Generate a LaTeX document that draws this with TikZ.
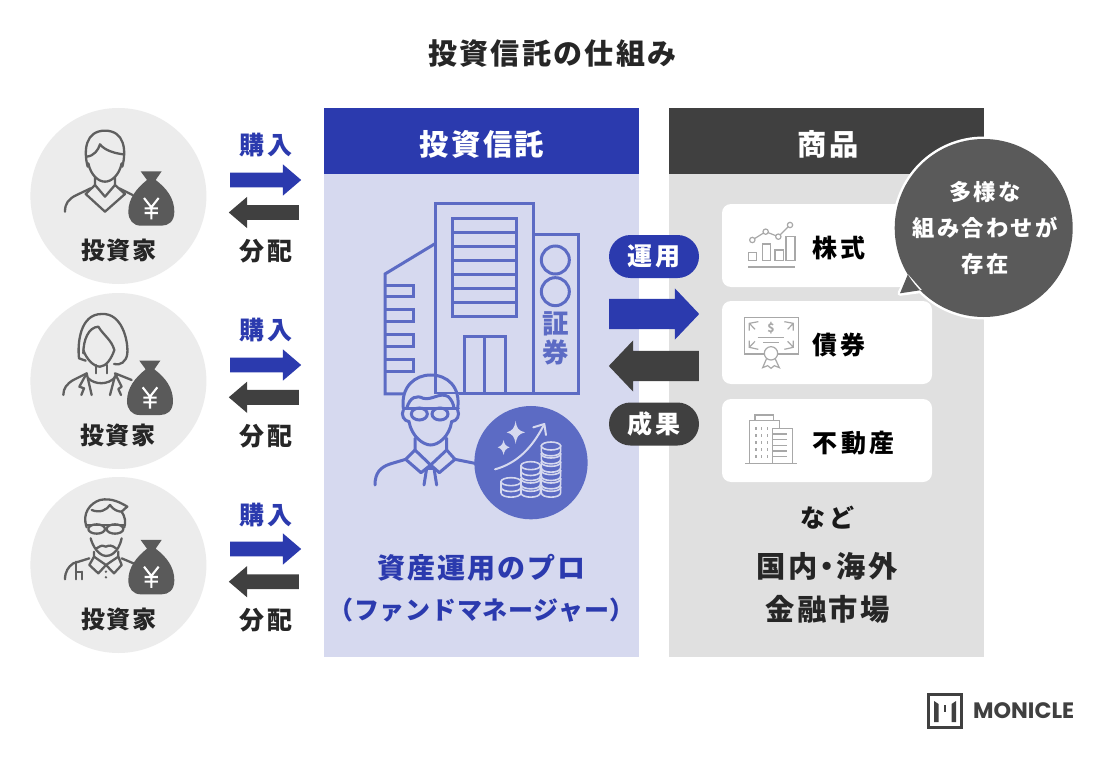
\documentclass[tikz,border=0pt]{standalone}
\usepackage{fontspec}
\setmainfont{Noto Sans CJK JP}
\newfontfamily\logofont{Poppins}
\usetikzlibrary{shapes.arrows,shapes.geometric,shapes.misc}
\definecolor{brand}{HTML}{2B3AAE}
\definecolor{bluepale}{HTML}{D6D9EF}
\definecolor{bluemid}{HTML}{5C6BC4}
\definecolor{darkhead}{HTML}{404040}
\definecolor{graypale}{HTML}{E0E0E0}
\definecolor{circlegray}{HTML}{ECECEC}
\definecolor{iconline}{HTML}{5F5F5F}
\definecolor{callout}{HTML}{5A5A5A}
\definecolor{thingray}{HTML}{A8A8A8}
\tikzset{
  tsmall/.style={font=\fontsize{24}{24}\selectfont\bfseries\addfontfeature{LetterSpace=6}},
  tpair/.style={font=\fontsize{25}{25}\selectfont\bfseries\addfontfeature{LetterSpace=14}},
  tbig/.style={font=\fontsize{29.3}{29.3}\selectfont\bfseries\addfontfeature{LetterSpace=8}},
  invcircle/.style={circle,fill=circlegray,minimum size=176pt,inner sep=0},
  buyarrow/.style={single arrow,anchor=tail,fill=brand,minimum height=71pt,minimum width=31pt,single arrow head extend=8.25pt,single arrow tip angle=81,inner xsep=0,inner ysep=7.25pt},
  payarrow/.style={single arrow,anchor=tail,fill=darkhead,shape border rotate=180,minimum height=70pt,minimum width=31pt,single arrow head extend=8.25pt,single arrow tip angle=81,inner xsep=0,inner ysep=7.25pt},
  bigarrow/.style={single arrow,anchor=tail,minimum height=90pt,minimum width=51pt,single arrow head extend=10.5pt,single arrow tip angle=93,inner xsep=0,inner ysep=15pt},
  pill/.style={rounded rectangle,minimum width=90pt,minimum height=43pt,inner sep=0,text=white,tpair},
  card/.style={rectangle,fill=white,rounded corners=9pt,minimum width=210pt,minimum height=83pt,inner sep=0},
  panel/.style={rectangle,minimum width=315pt,inner sep=0},
  person/.style={draw=iconline,line width=2.3pt,line cap=round,line join=round},
  bld/.style={draw=bluemid,line width=3pt,line join=miter},
  thinl/.style={draw=thingray,line width=1.2pt},
  coin/.style={draw=bluepale,fill=bluemid,line width=1.6pt},
}
% money bag in 3x crop coordinates
\newcommand{\moneybag}{%
  \fill[callout] (362,214) -- (425,214) -- (407,240)
    .. controls (440,265) and (463,295) .. (463,335)
    .. controls (463,365) and (445,377) .. (425,377) -- (362,377)
    .. controls (340,377) and (325,360) .. (325,335)
    .. controls (325,295) and (350,265) .. (381,240) -- cycle;
  \draw[white,line width=2.1pt] (372,294) -- (394,322) -- (416,294) (394,322) -- (394,358) (374,325) -- (414,325) (374,339) -- (414,339);
}
\newcommand{\coinstack}[4]{% cx, rx, list of y (bottom first)
  \foreach \yy in {#3} {
    \path[coin] (#1-#2,\yy) -- (#1-#2,\yy+16) .. controls (#1-#2,\yy+#4) and (#1+#2,\yy+#4) .. (#1+#2,\yy+16) -- (#1+#2,\yy) -- cycle;
    \path[coin] (#1,\yy) ellipse [x radius=#2,y radius=12];
  }
}
\begin{document}
\begin{tikzpicture}[x=1pt,y=-1pt]
\useasboundingbox (0,0) rectangle (1104,760);
\fill[white] (0,0) rectangle (1104,760);

\node[text=black!85,font=\fontsize{29}{29}\selectfont\bfseries\addfontfeature{LetterSpace=8}] (title) at (552.5,54) {投資信託の仕組み};

% investors
\node[invcircle] (c1) at (118.4,196) {};
\node[invcircle] (c2) at (118.4,381) {};
\node[invcircle] (c3) at (118.4,565) {};
\node[tsmall,text=black!85] (i1) at (119,250) {投資家};
\node[tsmall,text=black!85] (i2) at (118,435) {投資家};
\node[tsmall,text=black!85] (i3) at (119,619.5) {投資家};

% person 1
\begin{scope}[shift={(20,100)},scale=1/3]
  \draw[person] (203,200) .. controls (190,150) and (197,92) .. (255,92) .. controls (313,92) and (320,150) .. (307,200);
  \draw[person] (200,170) .. controls (222,168) and (235,150) .. (240,133) .. controls (255,152) and (285,160) .. (310,163);
  \draw[person] (205,190) .. controls (212,225) and (235,245) .. (255,245) .. controls (275,245) and (298,225) .. (305,190);
  \draw[person] (225,230) -- (225,255) -- (255,290) -- (285,255) -- (285,230);
  \draw[person] (225,255) -- (197,282) -- (255,335) -- (315,282) -- (285,255);
  \draw[person] (212,265) -- (170,285) .. controls (145,297) and (135,310) .. (135,335);
  \draw[person] (298,265) -- (338,285);
  \moneybag
\end{scope}

% person 2
\begin{scope}[shift={(20,290)},scale=1/3]
  \draw[person] (197,212) -- (177,205) .. controls (172,160) and (180,72) .. (245,72) .. controls (305,68) and (325,150) .. (322,190) .. controls (320,215) and (300,228) .. (282,222);
  \draw[person] (190,190) .. controls (190,150) and (205,112) .. (235,110) .. controls (250,135) and (275,150) .. (283,180);
  \draw[person] (190,180) .. controls (198,205) and (220,230) .. (240,230) .. controls (258,230) and (275,205) .. (283,180);
  \draw[person] (228,225) -- (228,250) (260,225) -- (260,250);
  \draw[person] (205,265) .. controls (225,285) and (265,285) .. (285,262);
  \draw[person] (200,250) -- (160,270) .. controls (140,282) and (130,295) .. (130,315);
  \draw[person] (200,250) -- (178,290) -- (192,295) -- (184,315) (200,250) -- (215,315);
  \draw[person] (285,250) -- (335,270) (285,250) -- (305,290) -- (295,297) -- (303,315) (285,258) -- (270,315);
  \begin{scope}[shift={(-4,-2)}]\moneybag\end{scope}
\end{scope}

% person 3
\begin{scope}[shift={(20,290)},scale=1/3]
  \draw[person] (200,712) .. controls (185,670) and (210,640) .. (240,630) .. controls (275,622) and (305,640) .. (322,650) .. controls (315,655) and (310,660) .. (305,665) .. controls (315,680) and (318,695) .. (313,712);
  \draw[person] (215,660) .. controls (240,670) and (260,660) .. (270,645) .. controls (280,660) and (295,665) .. (305,665);
  \draw[person] (197,705) -- (315,705);
  \draw[person] (230,717) ellipse [x radius=25,y radius=14];
  \draw[person] (285,717) ellipse [x radius=25,y radius=14];
  \draw[person] (212,745) .. controls (225,790) and (250,798) .. (258,798) .. controls (270,798) and (295,790) .. (305,745);
  \draw[person] (230,775) .. controls (245,765) and (250,765) .. (258,770) .. controls (268,765) and (275,765) .. (288,775);
  \draw[person] (222,785) -- (222,800) -- (208,825) -- (235,850) -- (258,825) -- (282,850) -- (305,825) -- (295,800) -- (295,785);
  \draw[person] (222,800) -- (258,825) -- (295,800);
  \draw[person] (208,805) -- (160,820) .. controls (145,830) and (135,845) .. (135,868);
  \draw[person] (168,815) -- (168,868) (168,845) -- (185,845) (185,845) -- (185,868);
  \draw[person] (305,805) -- (345,822);
  \fill[iconline] (258,845) circle (4) (258,862) circle (4);
  \begin{scope}[shift={(0,536)}]\moneybag\end{scope}
\end{scope}

% buy and pay
\node[tpair,text=brand] (b1) at (266,145) {購入};
\node[buyarrow] (ba1) at (230,180) {};
\node[payarrow] (pa1) at (299,212.5) {};
\node[tpair,text=black!85] (p1) at (266,251) {分配};
\node[tpair,text=brand] (b2) at (266,330) {購入};
\node[buyarrow] (ba2) at (230,365) {};
\node[payarrow] (pa2) at (299,397.3) {};
\node[tpair,text=black!85] (p2) at (266,436) {分配};
\node[tpair,text=brand] (b3) at (266,515) {購入};
\node[buyarrow] (ba3) at (230,549) {};
\node[payarrow] (pa3) at (299,581.7) {};
\node[tpair,text=black!85] (p3) at (266,620) {分配};

% panels
\node[panel,fill=bluepale,minimum height=549pt] (fundbody) at (481.5,382.5) {};
\node[panel,fill=brand,minimum height=66pt] (fundhead) at (481.5,141) {};
\node[panel,fill=graypale,minimum height=549pt] (prodbody) at (826.5,382.5) {};
\node[panel,fill=darkhead,minimum height=66pt] (prodhead) at (826.5,141) {};
\node[tbig,text=white] (fundtitle) at (482,144) {投資信託};
\node[tbig,text=white] (prodtitle) at (828,144) {商品};

% building
\begin{scope}[shift={(360,190)},scale=1/3]
  \draw[bld] (227,612) -- (227,40) -- (520,40) -- (520,612);
  \draw[bld] (520,133) -- (655,133) -- (655,612) -- (520,612);
  \draw[bld] (130,612) -- (75,612) -- (75,252) -- (227,160);
  \draw[bld] (227,612) -- (520,612);
  \draw[bld] (277,85) rectangle (470,380);
  \foreach \yy in {127,170,212,253,295,338} \draw[bld] (277,\yy) -- (470,\yy);
  \draw[bld] (312,612) -- (312,440) -- (435,440) -- (435,612) (373,440) -- (373,612);
  \foreach \yy in {285,360,435,510} \draw[bld] (75,\yy) -- (160,\yy) -- (160,\yy+35) -- (75,\yy+35);
  \draw[bld] (586,210) circle (42);
  \draw[bld] (586,305) circle (42);
  \node[text=bluemid,font=\fontsize{26.5}{26.5}\selectfont\bfseries] (sho) at (586,400) {証};
  \node[text=bluemid,font=\fontsize{26.5}{26.5}\selectfont\bfseries] (ken) at (586,488) {券};
  % manager
  \fill[bluepale] (128,612) rectangle (297,690);
  \draw[bld,line cap=round] (130,655) .. controls (122,590) and (165,555) .. (212,555) .. controls (262,555) and (302,590) .. (293,655);
  \draw[bld,line cap=round] (140,655) .. controls (150,620) and (170,615) .. (190,625) .. controls (215,632) and (240,605) .. (265,620) .. controls (275,630) and (280,640) .. (282,655);
  \draw[bld,line cap=round] (130,655) -- (295,655);
  \draw[bld] (178,672) ellipse [x radius=24,y radius=18];
  \draw[bld] (240,672) ellipse [x radius=24,y radius=18];
  \draw[bld,line cap=round] (130,660) .. controls (122,675) and (132,693) .. (147,695) .. controls (155,740) and (190,765) .. (212,765) .. controls (235,765) and (268,740) .. (275,695) .. controls (292,693) and (300,675) .. (293,660);
  \draw[bld,line cap=round] (165,745) -- (165,780) -- (212,825) -- (260,780) -- (260,745);
  \draw[bld,line cap=round,line join=round] (165,780) -- (137,808) -- (183,848) -- (212,825) -- (238,848) -- (285,808) -- (260,780);
  \draw[bld,line cap=round] (137,808) -- (90,822) .. controls (60,832) and (45,850) .. (45,885);
  \draw[bld,line cap=round] (285,808) -- (345,820);
  \draw[bld,line cap=round,line join=round] (200,835) -- (192,885) (222,835) -- (230,885) (200,835) -- (222,835);
  % coin badge
  \fill[bluemid] (513,818) circle (170);
  \fill[bluepale] (467,692) .. controls (470,715) and (475,722) .. (495,727) .. controls (475,732) and (470,740) .. (467,762) .. controls (463,740) and (458,732) .. (440,727) .. controls (458,722) and (463,715) .. (467,692) -- cycle;
  \fill[bluepale] (431,750) .. controls (433,763) and (437,768) .. (449,772) .. controls (437,776) and (433,782) .. (431,795) .. controls (428,782) and (424,776) .. (413,772) .. controls (424,768) and (428,763) .. (431,750) -- cycle;
  \draw[bluepale,line width=2pt,line cap=round] (405,838) .. controls (470,820) and (515,775) .. (550,708);
  \draw[bluepale,line width=2pt,line cap=round,line join=round] (520,712) -- (553,702) -- (558,735);
  \coinstack{573}{29}{892,867,842,817,792,768}{34}
  \coinstack{512}{29}{892,867,842,827}{34}
  \coinstack{453}{30}{892,875}{34}
\end{scope}

\node[text=brand,font=\fontsize{28}{28}\selectfont\bfseries\addfontfeature{LetterSpace=7}] (pro1) at (481.5,567.5) {資産運用のプロ};
\node[text=brand,font=\fontsize{25}{25}\selectfont\bfseries\addfontfeature{LetterSpace=3}] (pro2) at (481.5,610) {（ファンドマネージャー）};

% middle
\node[pill,fill=brand] (unyo) at (654,256.5) {運用};
\node[pill,fill=darkhead] (seika) at (654,424) {成果};
\node[bigarrow,fill=brand] (up) at (609,314) {};
\node[bigarrow,fill=darkhead,shape border rotate=180] (down) at (699,366) {};

% cards
\node[card] (k1) at (827,245.5) {};
\node[card] (k2) at (827,342.5) {};
\node[card] (k3) at (827,440.5) {};
\node[tpair,text=black] (kt1) at (839,248) {株式};
\node[tpair,text=black] (kt2) at (839,345) {債券};
\node[tpair,text=black] (kt3) at (853.5,443) {不動産};

% stock icon
\begin{scope}[shift={(720,130)},scale=1/3]
  \draw[draw=thingray,line width=1.8pt] (85,412) -- (225,412);
  \draw[thinl] (85,367) rectangle (110,392);
  \draw[thinl] (127,342) rectangle (152,392);
  \draw[thinl] (165,360) rectangle (190,392);
  \draw[thinl] (198,320) rectangle (225,392);
  \draw[thinl] (97,330) -- (137,305) -- (175,320) -- (210,285);
  \foreach \p in {(97,330),(137,305),(175,320),(210,285)} \draw[thinl,fill=white] \p circle (8);
\end{scope}

% bond icon
\begin{scope}[shift={(720,300)},scale=1/3]
  \draw[thinl] (73,52) rectangle (235,162);
  \draw[thinl] (88,92) -- (88,70) -- (115,65) (88,70) -- (105,88);
  \draw[thinl] (220,92) -- (220,70) -- (193,65) (220,70) -- (203,88);
  \draw[thinl] (88,122) -- (88,142) -- (115,148) (88,142) -- (105,124);
  \draw[thinl] (220,122) -- (220,142) -- (193,148) (220,142) -- (203,124);
  \draw[thinl] (113,113) -- (193,113) (130,128) -- (177,128);
  \node[text=thingray,font=\fontsize{12}{12}\selectfont\bfseries] (dollar) at (153,84) {\$};
  \draw[thinl] (140,175) -- (128,203) -- (143,197) -- (153,205) -- (163,197) -- (178,203) -- (165,175);
  \draw[thinl,fill=white] (153,160) circle (20);
\end{scope}

% estate icon
\begin{scope}[shift={(720,300)},scale=1/3]
  \draw[draw=thingray,line width=1.6pt] (75,490) -- (230,490);
  \draw[thinl] (88,490) -- (88,362) -- (178,362) -- (178,385);
  \draw[thinl] (105,362) -- (105,345) -- (160,345) -- (160,362);
  \draw[thinl] (157,490) -- (157,385) -- (218,385) -- (218,490);
  \foreach \yy in {402,419,436,453,470} \draw[thinl] (160,\yy) -- (202,\yy);
  \foreach \xx in {106,123,140} \foreach \yy in {382,403,424,445,466} \fill[thingray] (\xx,\yy) rectangle +(3.5,9);
\end{scope}

% market text
\node[tpair,text=black!90] (nado) at (827.5,518) {など};
\node[tbig,text=black!85] (m1) at (827,566) {国内\hspace{-5pt}・\hspace{-5pt}海外};
\node[tbig,text=black!85] (m2) at (827.5,609) {金融市場};

% callout
\fill[white] (908,276) -- (900,293.3) -- (920,290.7) -- cycle;
\draw[white,line width=5pt,line join=round] (983.7,228) circle (89) (908.3,276) -- (900,293.3) -- (920,290.7);
\fill[callout] (983.7,228) circle (89) (908,274) -- (900,293.3) -- (922,290) -- cycle;
\node[text=white,align=center,font=\fontsize{22.3}{36}\selectfont\bfseries\addfontfeature{LetterSpace=10}] (bub) at (985,228) {多様な\\組み合わせが\\存在};

% logo
\node[rectangle,draw=darkhead,line width=2.6pt,minimum width=33pt,minimum height=33pt,inner sep=0] (logobox) at (945,711) {};
\fill[darkhead] (934,701) -- (938.5,704) -- (938.5,722) -- (934,722) -- cycle;
\fill[darkhead] (943.5,705) -- (946,705) -- (946,712) -- (943.5,712) -- cycle;
\fill[darkhead] (951.5,704) -- (956,701) -- (956,722) -- (951.5,722) -- cycle;
\node[anchor=west,inner sep=0,text=darkhead,font=\logofont\fontsize{22.3}{22.3}\selectfont\bfseries] (logotext) at (973,711) {MONICLE};
\end{tikzpicture}
\end{document}
